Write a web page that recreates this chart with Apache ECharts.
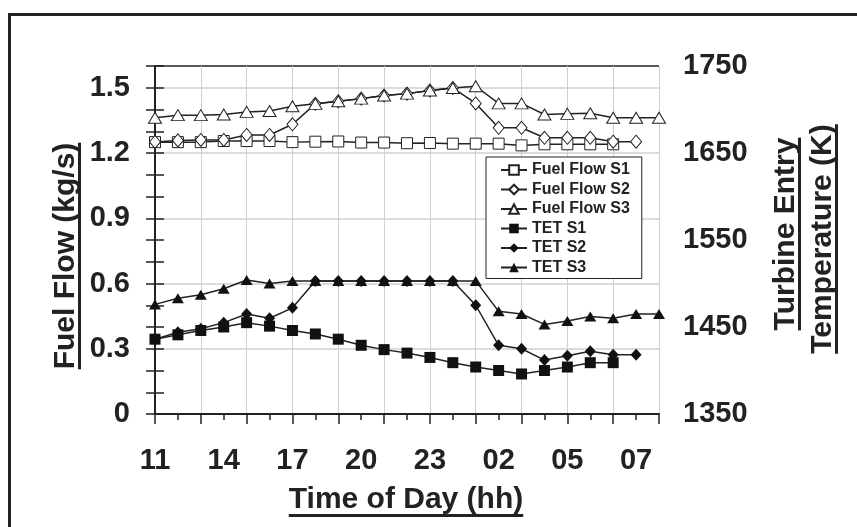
<!DOCTYPE html>
<html>
<head>
<meta charset="utf-8">
<script src="https://cdn.jsdelivr.net/npm/echarts@6/dist/echarts.min.js"></script>
<style>
  html, body { margin: 0; padding: 0; background: #fff; }
  #chart { width: 857px; height: 527px; }
</style>
</head>
<body>
<div id="chart"></div>
<script>
// hour index 0 = 11:00, one point per hour
var xTickLabels = ['11', '14', '17', '20', '23', '02', '05', '07'];
var fuelTickLabels = ['0', '0.3', '0.6', '0.9', '1.2', '1.5'];
var tetTickLabels = ['1350', '1450', '1550', '1650', '1750'];

var fuelS1 = [1.25, 1.25, 1.25, 1.255, 1.255, 1.255, 1.25, 1.252, 1.253, 1.248, 1.248,
  1.245, 1.246, 1.243, 1.243, 1.243, 1.235, 1.24, 1.24, 1.24, 1.24];
var fuelS2 = [1.251, 1.258, 1.26, 1.26, 1.283, 1.283, 1.332, 1.426, 1.438, 1.45, 1.464,
  1.473, 1.487, 1.499, 1.428, 1.316, 1.316, 1.27, 1.27, 1.27, 1.252, 1.252];
var fuelS3 = [1.362, 1.374, 1.374, 1.377, 1.389, 1.393, 1.415, 1.426, 1.438, 1.45, 1.464,
  1.473, 1.487, 1.499, 1.507, 1.428, 1.428, 1.377, 1.38, 1.383, 1.362, 1.362, 1.362];
var tetS1 = [1436, 1441, 1446, 1450, 1455, 1451, 1446, 1442, 1436, 1429, 1424,
  1420, 1415, 1409, 1404, 1400, 1396, 1400, 1404, 1409, 1409];
var tetS2 = [1436, 1444, 1448, 1455, 1465, 1460, 1472, 1503, 1503, 1503, 1503,
  1503, 1503, 1503, 1475, 1429, 1425, 1412, 1417, 1422, 1418, 1418];
var tetS3 = [1476, 1483, 1487, 1494, 1504, 1500, 1503, 1503, 1503, 1503, 1503,
  1503, 1503, 1503, 1503, 1468, 1465, 1453, 1457, 1462, 1460, 1465, 1465];

var FONT = '"Liberation Sans", Arial, sans-serif';
var INK = '#222';
var TITLE_SIZE = 30;

function pairs(arr) {
  return arr.map(function (v, i) { return [i, v]; });
}

function textWidth(text, size) {
  var ctx = document.createElement('canvas').getContext('2d');
  ctx.font = 'bold ' + size + 'px ' + FONT;
  return ctx.measureText(text).width;
}

// underlined title, rotated when vertical
function title(text, cx, cy, vertical, ulPos) {
  var w = textWidth(text, TITLE_SIZE);
  var txt = {
    type: 'text', x: cx, y: cy, rotation: vertical ? Math.PI / 2 : 0, z: 10,
    style: { text: text, font: 'bold ' + TITLE_SIZE + 'px ' + FONT, fill: INK, align: 'center', verticalAlign: 'middle' }
  };
  var line = {
    type: 'rect', z: 10,
    shape: vertical ? { x: ulPos, y: cy - w / 2, width: 3, height: w }
                    : { x: cx - w / 2, y: ulPos, width: w, height: 3 },
    style: { fill: INK }
  };
  return [txt, line];
}

function lineSeries(name, data, yIdx, symbol, size, hollow) {
  return {
    name: name,
    type: 'line',
    yAxisIndex: yIdx,
    data: pairs(data),
    symbol: symbol,
    symbolSize: size,
    showAllSymbol: true,
    lineStyle: { color: INK, width: 1.5 },
    itemStyle: hollow ? { color: '#fff', borderColor: INK, borderWidth: 1 } : { color: '#111', borderWidth: 0 },
    emphasis: { disabled: true },
    animation: false
  };
}

var chart = echarts.init(document.getElementById('chart'));

var labelStyle = { fontFamily: FONT, fontWeight: 'bold', fontSize: 29, color: INK };

var option = {
  animation: false,
  grid: { left: 155, right: 198, top: 66, bottom: 113 },
  legend: {
    orient: 'vertical',
    left: 486, top: 157,
    padding: [5, 12, 3, 14],
    itemWidth: 26, itemHeight: 12, itemGap: 3.5,
    backgroundColor: '#fff', borderColor: INK, borderWidth: 1,
    textStyle: { fontFamily: FONT, fontWeight: 'bold', fontSize: 16, color: INK, lineHeight: 14 },
    data: ['Fuel Flow S1', 'Fuel Flow S2', 'Fuel Flow S3', 'TET S1', 'TET S2', 'TET S3']
  },
  xAxis: [
    {
      type: 'value', position: 'bottom', min: 0, max: 22, interval: 1,
      axisLine: { lineStyle: { color: INK, width: 2 } },
      axisTick: { length: 6, lineStyle: { color: INK, width: 1.5 } },
      axisLabel: Object.assign({
        margin: 32,
        formatter: function (v) { return v % 3 === 0 ? (xTickLabels[v / 3] || '') : ''; }
      }, labelStyle),
      splitLine: { show: false }
    },
    {
      // grid lines every two hours plus the longer ticks
      type: 'value', position: 'top', offset: -348, min: 0, max: 22, interval: 2,
      axisLine: { show: false },
      axisTick: { inside: true, length: 10, lineStyle: { color: INK, width: 1.5 } },
      axisLabel: { show: false },
      splitLine: { show: true, lineStyle: { color: '#d0d0d0', width: 1 } }
    }
  ],
  yAxis: [
    {
      type: 'value', position: 'left', min: 0, max: 1.6, interval: 0.1,
      axisLine: { show: true, lineStyle: { color: INK, width: 2 } },
      axisTick: { show: true, length: 9, lineStyle: { color: INK, width: 1.5 } },
      axisLabel: Object.assign({
        margin: 25,
        formatter: function (v) {
          var k = Math.round(v * 10);
          return k % 3 === 0 ? (fuelTickLabels[k / 3] || '') : '';
        }
      }, labelStyle),
      splitLine: { show: false }
    },
    {
      type: 'value', position: 'right', min: 1350, max: 1750, interval: 25,
      axisLine: { show: true, lineStyle: { color: INK, width: 2 } },
      axisTick: { show: true, length: 9, lineStyle: { color: INK, width: 1.5 } },
      axisLabel: Object.assign({
        margin: 24,
        formatter: function (v) {
          var k = Math.round((v - 1350) / 25);
          return k % 4 === 0 ? (tetTickLabels[k / 4] || '') : '';
        }
      }, labelStyle),
      splitLine: { show: false }
    },
    {
      // horizontal grid lines; last one is the top frame of the plot
      type: 'value', position: 'left', min: 0, max: 1.6, interval: 0.3,
      axisLine: { show: false }, axisTick: { show: false }, axisLabel: { show: false },
      splitLine: { show: true, lineStyle: { color: ['#d0d0d0', '#d0d0d0', '#d0d0d0', '#d0d0d0', '#d0d0d0', '#d0d0d0', INK], width: 1.5 } }
    }
  ],
  series: [
    lineSeries('Fuel Flow S1', fuelS1, 0, 'rect', 11, true),
    lineSeries('Fuel Flow S2', fuelS2, 0, 'diamond', [11, 13], true),
    lineSeries('Fuel Flow S3', fuelS3, 0, 'triangle', [13, 11], true),
    lineSeries('TET S1', tetS1, 1, 'rect', 11, false),
    lineSeries('TET S2', tetS2, 1, 'diamond', [11, 12], false),
    lineSeries('TET S3', tetS3, 1, 'triangle', [12, 10], false)
  ],
  graphic: [
    { type: 'rect', z: 10, shape: { x: 9.5, y: 14.5, width: 900, height: 600 },
      style: { fill: 'none', stroke: INK, lineWidth: 3 } }
  ]
    .concat(title('Time of Day (hh)', 406, 500, false, 514))
    .concat(title('Fuel Flow (kg/s)', 66, 256, true, 78))
    .concat(title('Turbine Entry', 786, 234, true, 798))
    .concat(title('Temperature (K)', 823, 239, true, 835))
};

chart.setOption(option);
</script>
</body>
</html>
